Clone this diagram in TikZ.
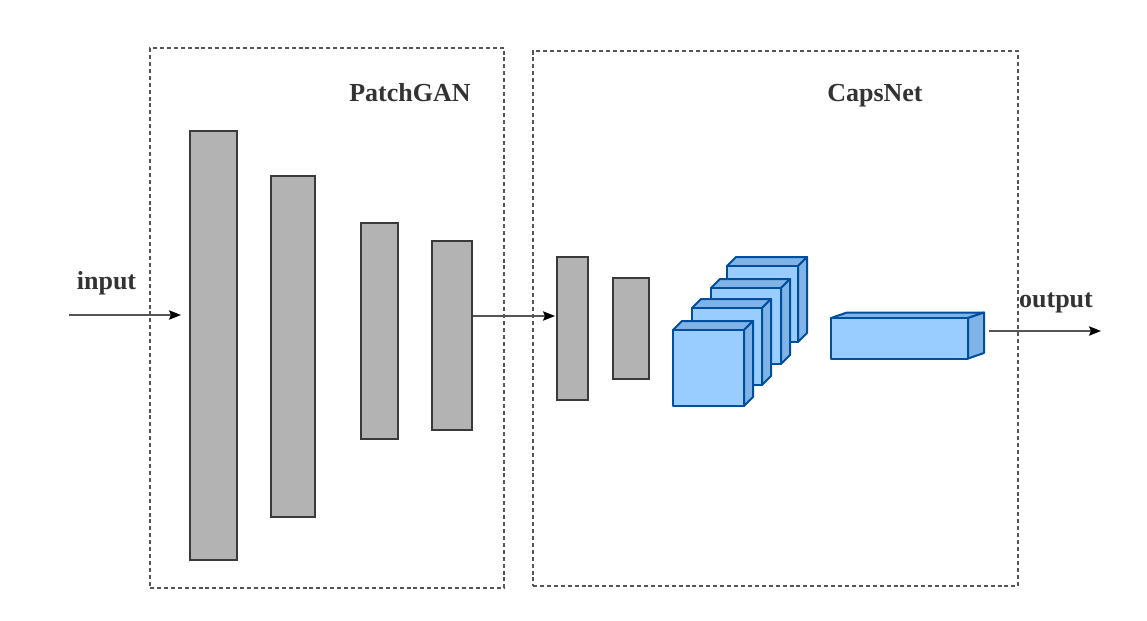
\documentclass[tikz,border=0pt]{standalone}
\usepackage{fontspec}
\setmainfont{Liberation Serif}
\usetikzlibrary{arrows.meta,fit}
\definecolor{txt}{HTML}{333333}
\definecolor{bargray}{HTML}{B3B3B3}
\definecolor{barline}{HTML}{3A3A3A}
\definecolor{boxline}{HTML}{555555}
\definecolor{cubefront}{HTML}{99CCFF}
\definecolor{cubeside}{HTML}{80B3E6}
\definecolor{cubeline}{HTML}{004F9E}
\tikzset{
  groupbox/.style={draw=boxline, dash pattern=on 3pt off 2.2pt, line width=0.8pt, fill=none},
  barbox/.style={draw=barline, fill=bargray, line width=0.8pt, inner sep=0pt},
  lbl/.style={text=txt, font=\fontsize{19.5}{23}\selectfont\bfseries, inner sep=0pt},
  conn/.style={draw=boxline, line width=1.1pt, -{Stealth[length=9pt,width=7pt,inset=1.5pt,fill=black,color=black]}},
  cubeface/.style={draw=cubeline, fill=cubefront, line width=1.5pt, line join=round},
  cubesidef/.style={draw=cubeline, fill=cubeside, line width=1.5pt, line join=round}
}
\newcommand\mycube[5]{%
  % #1 x, #2 y (front top-left), #3 w, #4 h, #5 depth
  \filldraw[cubesidef] (#1,#2) -- ++(#5,-#5) -- ++(#3,0) -- ++(-#5,#5) -- cycle;
  \filldraw[cubesidef] ({#1+#3},#2) -- ++(#5,-#5) -- ++(0,#4) -- ++(-#5,#5) -- cycle;
  \filldraw[cubeface] (#1,#2) rectangle ++(#3,#4);
}
\begin{document}
\begin{tikzpicture}[x=0.75pt,y=-0.75pt]
\useasboundingbox (0,0) rectangle (1147,621);
\fill[white] (0,0) rectangle (1147,621);

% group boxes
\node[groupbox, inner sep=0pt, fit={(150,48) (504,588)}] (patchbox) {};
\node[groupbox, inner sep=0pt, fit={(533,51) (1018,586)}] (capsbox) {};

% labels
\node[lbl] (patchlbl) at (410,93) {PatchGAN};
\node[lbl] (capslbl) at (875,96) {CapsNet};
\node[lbl] (inlbl) at (106.5,283) {input};
\node[lbl] (outlbl) at (1056,303) {output};

% gray bars
\node[barbox, fit={(190,131) (237,560)}] (b1) {};
\node[barbox, fit={(271,176) (315,517)}] (b2) {};
\node[barbox, fit={(361,223) (398,439)}] (b3) {};
\node[barbox, fit={(432,241) (472,430)}] (b4) {};
\node[barbox, fit={(557,257) (588,400)}] (b5) {};
\node[barbox, fit={(613,278) (649,379)}] (b6) {};

% capsule cubes (back to front)
\mycube{727}{266}{71}{76}{9}
\mycube{711}{288}{70}{76}{9}
\mycube{692}{308}{70}{77}{9}
\mycube{673}{330}{71}{76}{9}

% output capsule bar
\filldraw[cubesidef] (831,318) -- ++(16,-5.5) -- ++(137,0) -- ++(-16,5.5) -- cycle;
\filldraw[cubesidef] (968,318) -- ++(16,-5.5) -- ++(0,40.5) -- ++(-16,5.5) -- cycle;
\filldraw[cubeface] (831,318) rectangle (968,358.5);
\coordinate (capsout) at (989,331);

% connectors
\coordinate (instart) at (69,315);
\coordinate (inend) at (181,315);
\draw[conn] (instart) -- (inend);
\coordinate (b4out) at (b4.east |- 0,316);
\coordinate (b5in) at (555,316);
\draw[conn] (b4out) -- (b5in);
\coordinate (outend) at (1101,331);
\draw[conn] (capsout) -- (outend);
\end{tikzpicture}
\end{document}
